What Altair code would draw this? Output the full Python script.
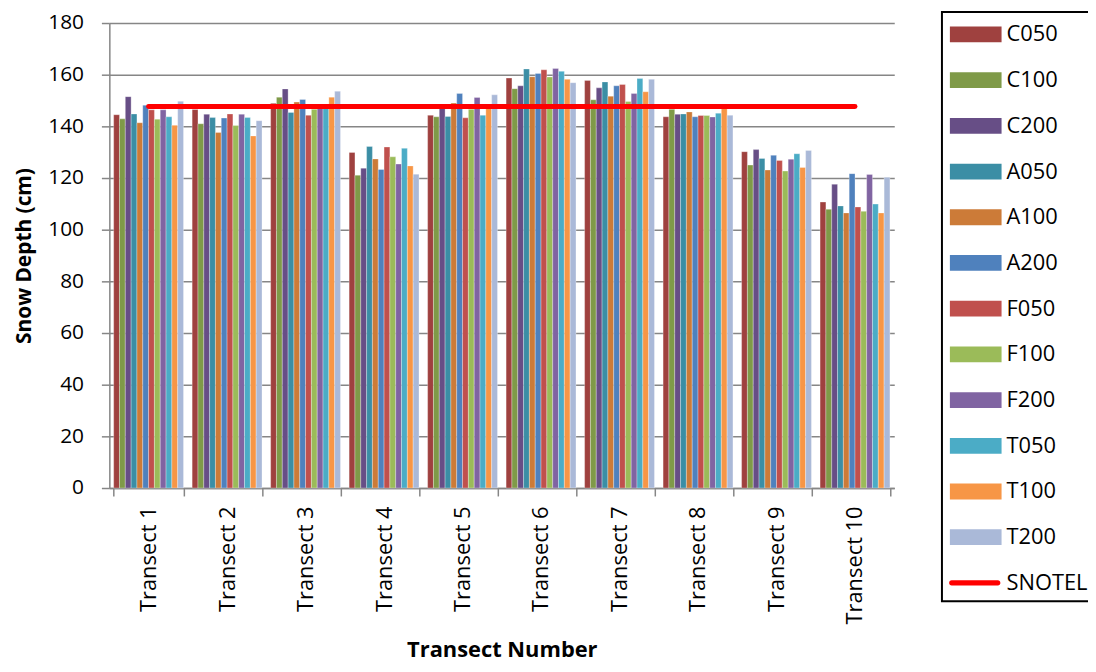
import altair as alt
import pandas as pd

transects = [f"Transect {i}" for i in range(1, 11)]
series = ["C050", "C100", "C200", "A050", "A100", "A200",
          "F050", "F100", "F200", "T050", "T100", "T200"]

C050 = [144.5, 146.5, 148.9, 129.9, 144.3, 158.7, 157.8, 143.7, 130.2, 110.7]
C100 = [142.9, 141.0, 151.3, 121.1, 143.7, 154.6, 150.3, 146.6, 125.0, 107.9]
C200 = [151.5, 144.7, 154.5, 123.8, 147.0, 155.7, 154.9, 144.7, 131.0, 117.6]
A050 = [144.8, 143.4, 145.4, 132.2, 143.8, 162.2, 157.2, 144.8, 127.6, 109.2]
A100 = [141.4, 137.6, 149.4, 127.4, 149.0, 159.2, 151.7, 145.6, 123.1, 106.5]
A200 = [148.2, 143.2, 150.4, 123.3, 152.7, 160.5, 155.7, 143.7, 128.8, 121.7]
F050 = [146.4, 144.8, 144.3, 132.0, 143.3, 161.9, 156.2, 144.2, 126.8, 108.8]
F100 = [142.8, 140.3, 146.6, 128.2, 146.6, 159.1, 149.6, 144.2, 122.7, 107.1]
F200 = [146.4, 144.7, 148.7, 125.4, 151.2, 162.4, 152.7, 143.6, 127.3, 121.4]
T050 = [143.7, 143.4, 147.0, 131.5, 144.3, 161.3, 158.5, 145.1, 129.4, 109.9]
T100 = [140.4, 136.3, 151.3, 124.7, 148.3, 158.2, 153.4, 147.0, 124.1, 106.5]
T200 = [149.7, 142.2, 153.6, 121.5, 152.2, 156.9, 158.2, 144.3, 130.7, 120.3]
SNOTEL = [147.7] * 10

colors = ["#9F413F", "#7F9A48", "#674E86", "#3B8EA5", "#CC7B38", "#4F81BD",
          "#C0504D", "#9BBB59", "#8064A2", "#4BACC6", "#F79646", "#AAB9D8"]

values = {"C050": C050, "C100": C100, "C200": C200, "A050": A050, "A100": A100,
          "A200": A200, "F050": F050, "F100": F100, "F200": F200, "T050": T050,
          "T100": T100, "T200": T200}

rows = []
for s in series:
    for t, v in zip(transects, values[s]):
        rows.append({"Transect": t, "Series": s, "Depth": v})
bars_df = pd.DataFrame(rows)
line_df = pd.DataFrame({"Transect": transects, "Depth": SNOTEL})

legend_domain = series + ["SNOTEL"]
legend_colors = colors + ["#FF0000"]
rect_path = "M-0.967,-0.53H2.5V0.53H-0.967Z"
line_path = ("M-0.85,-0.17H2.25A0.17,0.17 0 0 1 2.25,0.17"
             "H-0.85A0.17,0.17 0 0 1 -0.85,-0.17Z")
legend_shapes = [rect_path] * 12 + [line_path]
legend_df = pd.DataFrame({"Transect": ["Transect 1"] * 13,
                          "Series": legend_domain,
                          "Depth": [0] * 13})

FONT = "Open Sans"
GRAY = "#868686"

x_enc = alt.X("Transect:N", sort=transects,
              scale=alt.Scale(paddingInner=0.11, paddingOuter=0.055),
              axis=alt.Axis(title="Transect Number", labelAngle=270,
                            labelFontSize=22, labelColor="black",
                            labelPadding=10, tickSize=8, tickColor=GRAY,
                            tickWidth=1.5, tickBand="extent",
                            domainColor=GRAY, domainWidth=1.5,
                            titleFontSize=22, titleFontWeight="bold",
                            titleColor="black", titleX=395, titleY=170,
                            titleBaseline="alphabetic", titleAlign="center"))
y_enc = alt.Y("Depth:Q",
              scale=alt.Scale(domain=[0, 180], nice=False),
              axis=alt.Axis(title="Snow Depth (cm)", values=list(range(0, 181, 20)),
                            labelFontSize=21, labelColor="black", labelPadding=18,
                            tickSize=8, tickColor=GRAY, tickWidth=1.5,
                            domainColor=GRAY, domainWidth=1.5,
                            grid=True, gridColor=GRAY, gridWidth=1.5,
                            titleFontSize=21, titleFontWeight="bold",
                            titleColor="black", titleAngle=270,
                            titleX=-79, titleY=234,
                            titleBaseline="alphabetic", titleAlign="center"))

bars = alt.Chart(bars_df).mark_bar(stroke="#ffffff", strokeWidth=0.5,
                                   strokeOpacity=0.6).encode(
    x=x_enc,
    y=y_enc,
    xOffset=alt.XOffset("Series:N", sort=series,
                        scale=alt.Scale(paddingInner=0, paddingOuter=0)),
    fill=alt.Fill("Series:N", scale=alt.Scale(domain=series, range=colors),
                  legend=None),
)

line = alt.Chart(line_df).mark_line(color="#FF0000", strokeWidth=5,
                                     strokeCap="round").encode(
    x=alt.X("Transect:N", sort=transects),
    y="Depth:Q",
)

legend_cfg = alt.Legend(title=None, orient="none", legendX=838, legendY=-11,
                        symbolSize=900, symbolStrokeWidth=0, symbolOpacity=1,
                        labelFontSize=22, labelColor="black", labelOffset=27.5,
                        rowPadding=20, padding=7.5, strokeColor="black",
                        fillColor="white", labelLimit=200)

legend_layer = alt.Chart(legend_df).mark_point(filled=True, opacity=0).encode(
    x=alt.X("Transect:N", sort=transects),
    y="Depth:Q",
    color=alt.Color("Series:N",
                    scale=alt.Scale(domain=legend_domain, range=legend_colors),
                    legend=legend_cfg),
    shape=alt.Shape("Series:N",
                    scale=alt.Scale(domain=legend_domain, range=legend_shapes),
                    legend=legend_cfg),
)

chart = alt.layer(bars, line, legend_layer).properties(
    width=790, height=468,
    autosize=alt.AutoSizeParams(type="none"),
    padding={"left": 102, "top": 13, "right": 195, "bottom": 175},
).configure(font=FONT).configure_view(stroke=None).configure_legend(strokeWidth=2)

chart.save("out.html", embed_options={"renderer": "svg", "actions": False})
